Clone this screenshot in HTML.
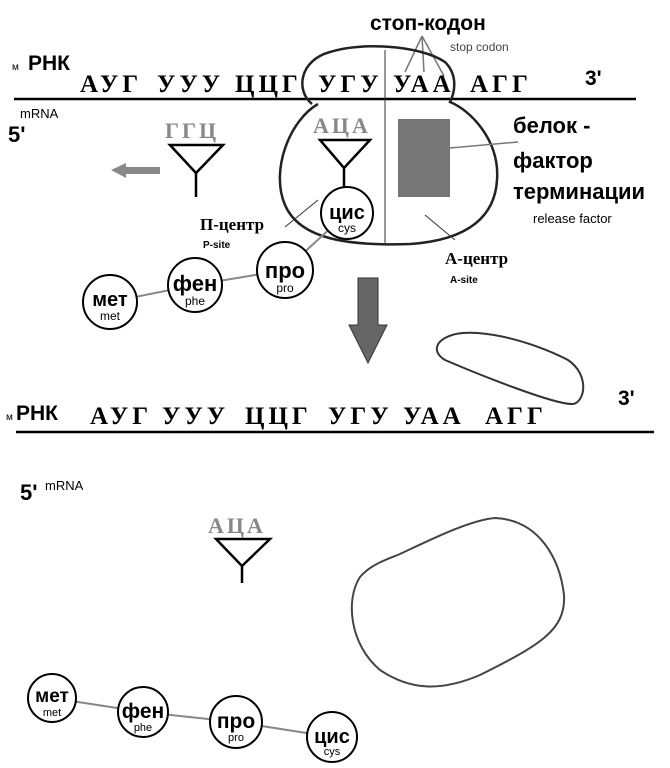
<!DOCTYPE html>
<html><head><meta charset="utf-8"><style>
html,body{margin:0;padding:0;background:#fff;}
svg{display:block;font-family:"Liberation Sans","Noto Sans CJK SC",sans-serif;}
.s{font-family:"Liberation Serif","Noto Serif CJK SC",serif;font-weight:bold;}
.b{font-weight:bold;}
</style></head><body>
<svg width="670" height="768" viewBox="0 0 670 768" xmlns="http://www.w3.org/2000/svg">
<text x="370" y="30" font-size="21" class="b">стоп-кодон</text>
<text x="450" y="51" font-size="12" fill="#444">stop codon</text>
<g stroke="#777" stroke-width="1.5" fill="none">
<line x1="422" y1="36" x2="405" y2="72"/><line x1="422" y1="36" x2="424" y2="72"/><line x1="422" y1="36" x2="444" y2="76"/>
</g>
<text x="12" y="70" font-size="10">м</text>
<text x="28" y="70" font-size="21" class="b">РНК</text>
<g font-size="25" class="s" letter-spacing="4">
<text x="80" y="92">АУГ</text>
<text x="157" y="92">УУУ</text>
<text x="235" y="92">ЦЦГ</text>
<text x="318" y="92">УГУ</text>
<text x="393" y="92">УАА</text>
<text x="470" y="92">АГГ</text>
</g>
<text x="585" y="85" font-size="21" class="b">3'</text>
<line x1="14" y1="99" x2="636" y2="99" stroke="#000" stroke-width="2.5"/>
<text x="20" y="118" font-size="13">mRNA</text>
<text x="8" y="142" font-size="22" class="b">5'</text>
<path d="M312,104 C295,90 300,60 330,52 C360,42 420,45 445,62 C458,75 455,92 450,102 C470,110 500,140 497,180 C495,215 470,240 410,244 C350,246 300,240 285,205 C270,170 290,120 318,104" fill="none" stroke="#222" stroke-width="2.5"/>
<line x1="385" y1="50" x2="385" y2="245" stroke="#333" stroke-width="1"/>
<rect x="398" y="119" width="52" height="78" fill="#777"/>
<line x1="450" y1="148" x2="518" y2="142" stroke="#777" stroke-width="1.5"/>
<text x="513" y="133" font-size="22" class="b">белок -</text>
<text x="513" y="168" font-size="22" class="b">фактор</text>
<text x="513" y="199" font-size="22" class="b">терминации</text>
<text x="533" y="223" font-size="13">release factor</text>
<text x="313" y="133" font-size="22" class="s" fill="#888" letter-spacing="3">АЦА</text>
<path d="M320,140 L370,140 L344,168 Z" fill="none" stroke="#000" stroke-width="2.5"/>
<line x1="344" y1="168" x2="344" y2="192" stroke="#000" stroke-width="2.5"/>
<text x="165" y="138" font-size="22" class="s" fill="#888" letter-spacing="3">ГГЦ</text>
<path d="M170,145 L223,145 L196,173 Z" fill="none" stroke="#000" stroke-width="2.5"/>
<line x1="196" y1="173" x2="196" y2="197" stroke="#000" stroke-width="2.5"/>
<path d="M111,170 L126,163 L126,167 L160,167 L160,174 L126,174 L126,178 Z" fill="#888"/>
<line x1="285" y1="227" x2="318" y2="200" stroke="#333" stroke-width="1"/>
<text x="200" y="230" font-size="17" class="s">П-центр</text>
<text x="203" y="248" font-size="10" class="b">P-site</text>
<line x1="425" y1="215" x2="455" y2="240" stroke="#333" stroke-width="1"/>
<text x="445" y="264" font-size="17" class="s">А-центр</text>
<text x="450" y="283" font-size="10" class="b">A-site</text>
<g stroke="#888" stroke-width="2"><line x1="347" y1="213" x2="285" y2="270"/><line x1="285" y1="270" x2="195" y2="285"/><line x1="195" y1="285" x2="110" y2="302"/></g>
<g fill="#fff" stroke="#000" stroke-width="2"><circle cx="347" cy="213" r="26"/><circle cx="285" cy="270" r="28"/><circle cx="195" cy="285" r="27"/><circle cx="110" cy="302" r="27"/></g>
<g text-anchor="middle">
<text x="347" y="219" font-size="20" class="b">цис</text><text x="347" y="232" font-size="12">cys</text>
<text x="285" y="278" font-size="22" class="b">про</text><text x="285" y="292" font-size="12">pro</text>
<text x="195" y="291" font-size="22" class="b">фен</text><text x="195" y="305" font-size="12">phe</text>
<text x="110" y="306" font-size="20" class="b">мет</text><text x="110" y="320" font-size="12">met</text>
</g>
<path d="M358,278 L378,278 L378,325 L387,325 L368,363 L349,325 L358,325 Z" fill="#666" stroke="#333" stroke-width="1"/>
<path d="M447,337 C470,325 530,340 568,360 C590,375 585,402 573,404 C555,405 480,375 445,360 C432,352 436,342 447,337 Z" fill="none" stroke="#333" stroke-width="2"/>
<text x="6" y="420" font-size="10">м</text>
<text x="16" y="420" font-size="21" class="b">РНК</text>
<g font-size="25" class="s" letter-spacing="4">
<text x="90" y="424">АУГ</text>
<text x="162" y="424">УУУ</text>
<text x="245" y="424">ЦЦГ</text>
<text x="328" y="424">УГУ</text>
<text x="403" y="424">УАА</text>
<text x="485" y="424">АГГ</text>
</g>
<text x="618" y="405" font-size="21" class="b">3'</text>
<line x1="16" y1="432" x2="654" y2="432" stroke="#000" stroke-width="2.5"/>
<text x="20" y="500" font-size="22" class="b">5'</text>
<text x="45" y="490" font-size="13">mRNA</text>
<text x="208" y="533" font-size="22" class="s" fill="#888" letter-spacing="3">АЦА</text>
<path d="M216,539 L270,539 L242,566 Z" fill="none" stroke="#000" stroke-width="2.5"/>
<line x1="242" y1="566" x2="242" y2="583" stroke="#000" stroke-width="2.5"/>
<path d="M400,554 C430,540 470,520 495,518 C540,520 560,560 564,595 C566,630 540,645 480,675 C440,692 410,690 380,670 C350,645 345,600 360,577 C370,565 385,560 400,554 Z" fill="none" stroke="#444" stroke-width="2"/>
<g stroke="#888" stroke-width="2"><line x1="52" y1="698" x2="143" y2="712"/><line x1="143" y1="712" x2="236" y2="722"/><line x1="236" y1="722" x2="332" y2="737"/></g>
<g fill="#fff" stroke="#000" stroke-width="2"><circle cx="52" cy="698" r="24"/><circle cx="143" cy="712" r="25"/><circle cx="236" cy="722" r="26"/><circle cx="332" cy="737" r="25"/></g>
<g text-anchor="middle">
<text x="52" y="702" font-size="19" class="b">мет</text><text x="52" y="716" font-size="11">met</text>
<text x="143" y="718" font-size="21" class="b">фен</text><text x="143" y="731" font-size="11">phe</text>
<text x="236" y="728" font-size="21" class="b">про</text><text x="236" y="741" font-size="11">pro</text>
<text x="332" y="743" font-size="20" class="b">цис</text><text x="332" y="755" font-size="11">cys</text>
</g>
</svg>
</body></html>
